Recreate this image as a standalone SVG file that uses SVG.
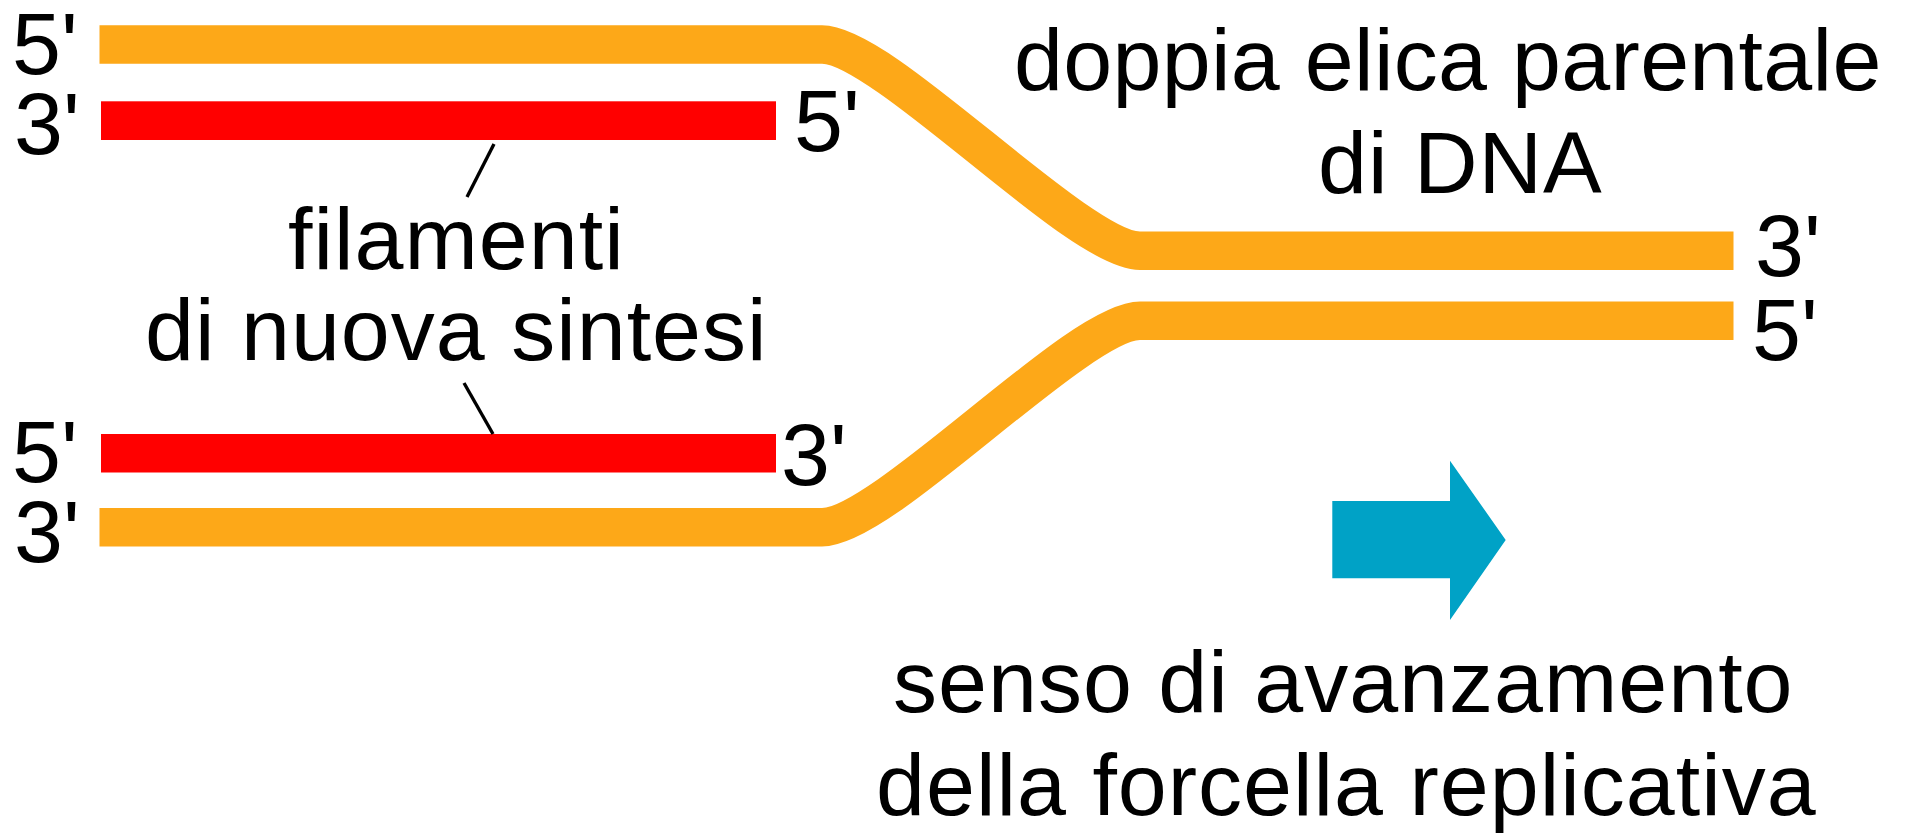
<svg xmlns="http://www.w3.org/2000/svg" width="1917" height="833" viewBox="0 0 1917 833">
  <style>
    .t { font-family: "Liberation Sans", Arial, sans-serif; font-size: 88px; fill: #000; }
    .ls { letter-spacing: 1px; }
    .parent { fill: none; stroke: #FDA818; stroke-width: 38.5; stroke-linecap: butt; }
    .newstrand { fill: #FF0000; }
    .leader { stroke: #000; stroke-width: 3.4; fill: none; }
    .arrow { fill: #00A2C6; }
  </style>
  <rect width="1917" height="833" fill="#fff"/>

  <g id="parent-strand-top">
    <path class="parent" d="M 99.5 44.5 H 822 C 884 44.5 1078 250.7 1140 250.7 H 1733.5"/>
  </g>
  <g id="parent-strand-bottom">
    <path class="parent" d="M 99.5 527.3 H 822 C 884 527.3 1078 320.8 1140 320.8 H 1733.5"/>
  </g>
  <g id="new-strand-top">
    <rect class="newstrand" x="101" y="101.3" width="675" height="38.7"/>
  </g>
  <g id="new-strand-bottom">
    <rect class="newstrand" x="101" y="434" width="675" height="38.5"/>
  </g>

  <g id="connectors">
    <line class="leader" x1="494" y1="144" x2="467" y2="197"/>
    <line class="leader" x1="464" y1="383" x2="493" y2="434"/>
  </g>

  <g id="end-labels">
    <text class="t" x="12" y="74">5'</text>
    <text class="t" x="14" y="154">3'</text>
    <text class="t" x="12" y="482">5'</text>
    <text class="t" x="14" y="562">3'</text>
    <text class="t" x="794" y="151">5'</text>
    <text class="t" x="781" y="485">3'</text>
    <text class="t" x="1755" y="276">3'</text>
    <text class="t" x="1752" y="360">5'</text>
  </g>

  <g id="label-new-strands">
    <text class="t ls" x="288" y="269">filamenti</text>
    <text class="t ls" x="145" y="360">di nuova sintesi</text>
  </g>

  <g id="label-parent-helix">
    <text class="t" x="1014" y="90" style="letter-spacing:0.3px">doppia elica parentale</text>
    <text class="t ls" x="1318" y="193">di DNA</text>
  </g>

  <g id="direction-arrow">
    <polygon class="arrow" points="1332.3,501 1450,501 1450,460.7 1505.7,540 1450,620 1450,578.3 1332.3,578.3"/>
  </g>

  <g id="label-direction">
    <text class="t ls" x="893" y="712">senso di avanzamento</text>
    <text class="t ls" x="876" y="815">della forcella replicativa</text>
  </g>
</svg>
